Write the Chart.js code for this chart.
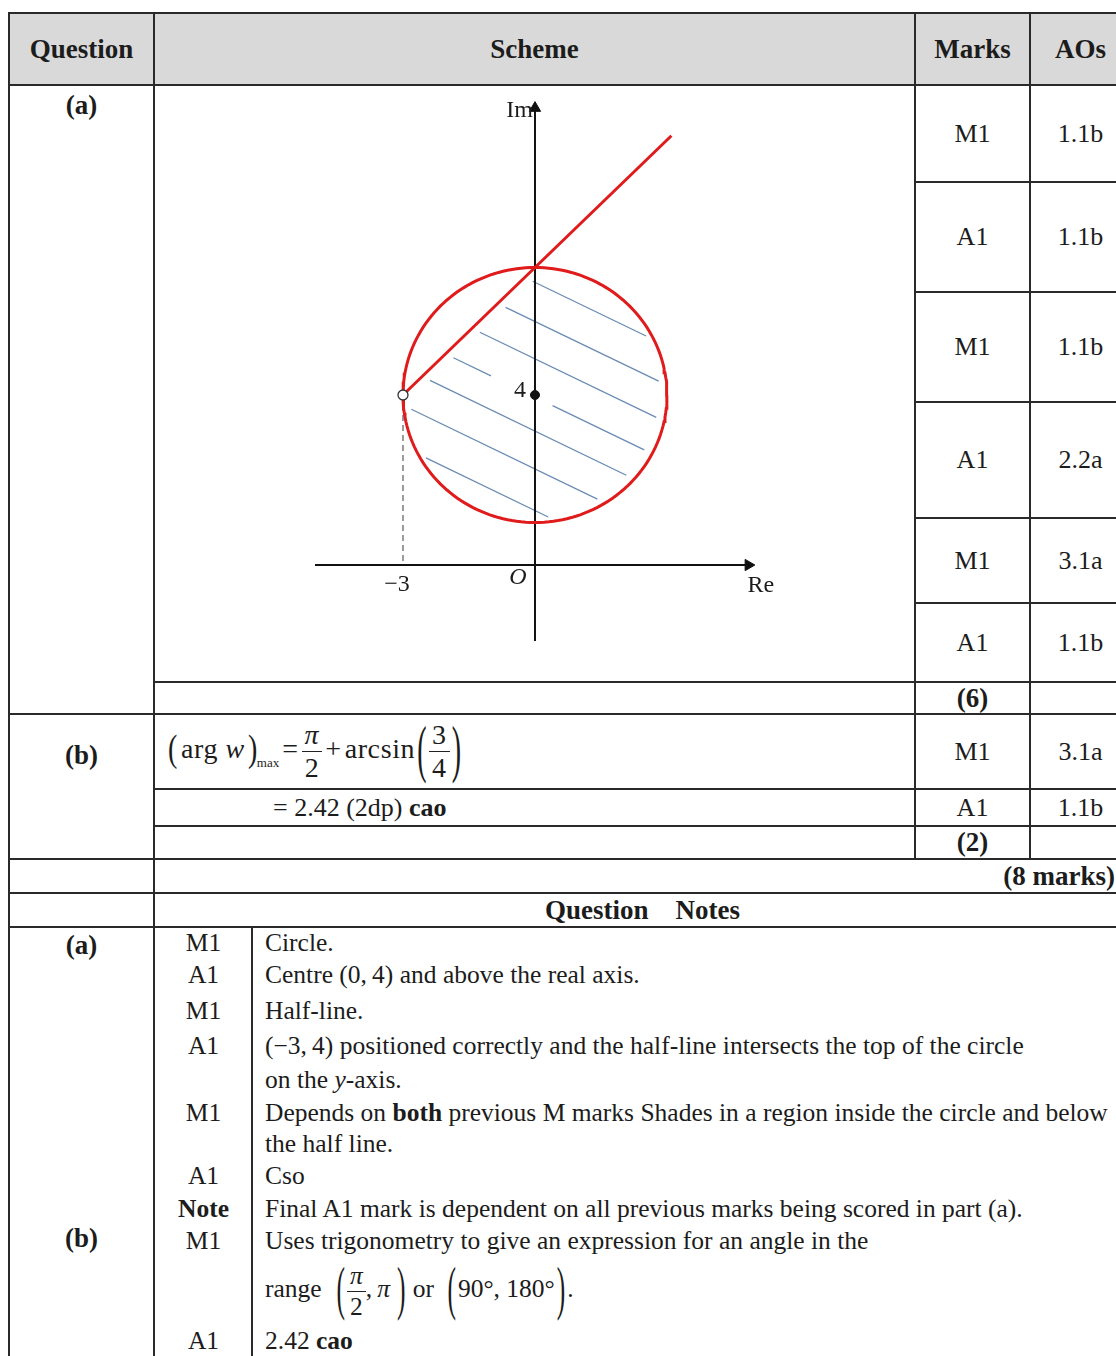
<!DOCTYPE html>
<html>
<head>
<meta charset="utf-8">
<script src="https://cdn.jsdelivr.net/npm/chart.js@4.4.1/dist/chart.umd.min.js"></script>
<style>
body { margin:0; width:1116px; height:1356px; overflow:hidden; background:#fff;
       font-family:"Liberation Serif","Times New Roman",serif; color:#1c1c1c; }
table { position:absolute; left:8px; top:12px; border-collapse:collapse; table-layout:fixed; width:1122px; }
th, td { border:2px solid #2a2a2a; padding:0; text-align:center; vertical-align:middle; line-height:1; font-size:26px; }
th { background:#d9d9d9; font-size:27px; font-weight:bold; }
.b { font-weight:bold; font-size:27px; }
.top { vertical-align:top; }
.lft { text-align:left; font-size:26px; }
.fr { display:inline-flex; flex-direction:column; vertical-align:middle; text-align:center; line-height:1.15; }
.fr > span:first-child { border-bottom:1.5px solid #222; padding:0 3px; }
.bp { display:inline-block; transform:scaleY(1.35); margin:0 3px; }
.bp2 { display:inline-block; transform:scaleY(2.3); margin:0 2px; }
.mx { font-size:13px; vertical-align:-9px; margin-left:-4px; letter-spacing:0; }
.op { display:inline-block; margin:0 3px; }
.formula { font-size:28px; letter-spacing:0.6px; }
.notes { position:relative; font-size:25.5px; }
.notes .vl { position:absolute; left:96px; top:0; bottom:-20px; border-left:2px solid #2a2a2a; }
.row { display:flex; align-items:center; }
.row .m { width:97px; text-align:center; }
.row .t { padding-left:13px; text-align:left; white-space:nowrap; }
#diagram { position:absolute; left:290px; top:90px; }
</style>
</head>
<body>
<table>
<colgroup><col style="width:145px"><col style="width:761px"><col style="width:115px"><col style="width:101px"></colgroup>
<tr style="height:72px"><th>Question</th><th>Scheme</th><th>Marks</th><th>AOs</th></tr>
<tr style="height:97px"><td rowspan="7" class="b top" style="padding-top:6px">(a)</td><td rowspan="6"></td><td>M1</td><td>1.1b</td></tr>
<tr style="height:110px"><td>A1</td><td>1.1b</td></tr>
<tr style="height:110px"><td>M1</td><td>1.1b</td></tr>
<tr style="height:116px"><td>A1</td><td>2.2a</td></tr>
<tr style="height:85px"><td>M1</td><td>3.1a</td></tr>
<tr style="height:79px"><td>A1</td><td>1.1b</td></tr>
<tr style="height:32px"><td></td><td class="b">(6)</td><td></td></tr>
<tr style="height:75px"><td rowspan="3" class="b top" style="padding-top:27px">(b)</td>
  <td class="lft formula" style="padding-left:10px"><span class="bp">(</span>arg&nbsp;<i>w</i><span class="bp">)</span><span class="mx">max</span><span class="op">=</span><span class="fr"><span><i>π</i></span><span>2</span></span><span class="op">+</span>arcsin<span class="bp2">(</span><span class="fr"><span>3</span><span>4</span></span><span class="bp2">)</span></td>
  <td>M1</td><td>3.1a</td></tr>
<tr style="height:37px"><td class="lft" style="padding-left:118px">= 2.42 (2dp) <b>cao</b></td><td>A1</td><td>1.1b</td></tr>
<tr style="height:33px"><td></td><td class="b">(2)</td><td></td></tr>
<tr style="height:34px"><td></td><td colspan="3" class="b" style="text-align:right;padding-right:15px">(8 marks)</td></tr>
<tr style="height:34px"><td></td><td colspan="3" class="b">Question&nbsp;&nbsp;&nbsp;&nbsp;Notes</td></tr>
<tr style="height:436px">
  <td class="b top" style="position:relative">
    <div style="position:absolute;left:0;right:0;top:2px;line-height:30px">(a)</div>
    <div style="position:absolute;left:0;right:0;top:295px;line-height:30px">(b)</div>
  </td>
  <td colspan="3" class="top">
    <div class="notes">
      <div class="vl"></div>
      <div class="row" style="height:30px"><div class="m">M1</div><div class="t">Circle.</div></div>
      <div class="row" style="height:34px"><div class="m">A1</div><div class="t">Centre (0,&thinsp;4) and above the real axis.</div></div>
      <div class="row" style="height:37px"><div class="m">M1</div><div class="t">Half-line.</div></div>
      <div class="row" style="height:33px"><div class="m">A1</div><div class="t">(−3,&thinsp;4) positioned correctly and the half-line intersects the top of the circle</div></div>
      <div class="row" style="height:35px"><div class="m"></div><div class="t">on the <i>y</i>-axis.</div></div>
      <div class="row" style="height:31px"><div class="m">M1</div><div class="t">Depends on <b>both</b> previous M marks Shades in a region inside the circle and below</div></div>
      <div class="row" style="height:31px"><div class="m"></div><div class="t">the half line.</div></div>
      <div class="row" style="height:34px"><div class="m">A1</div><div class="t">Cso</div></div>
      <div class="row" style="height:31px"><div class="m"><b>Note</b></div><div class="t">Final A1 mark is dependent on all previous marks being scored in part (a).</div></div>
      <div class="row" style="height:34px"><div class="m">M1</div><div class="t">Uses trigonometry to give an expression for an angle in the</div></div>
      <div class="row" style="height:66px"><div class="m"></div><div class="t">range&nbsp; <span class="bp2">(</span><span class="fr"><span><i>π</i></span><span>2</span></span>,&thinsp;<i>π</i>&thinsp;<span class="bp2">)</span>&thinsp;or&thinsp; <span class="bp2">(</span>90°, 180°<span class="bp2">)</span>.</div></div>
      <div class="row" style="height:34px"><div class="m">A1</div><div class="t">2.42 <b>cao</b></div></div>
    </div>
  </td>
</tr>
</table>

<canvas id="diagram" width="510" height="570"></canvas>

<script>
// plot window (data units) for the Argand diagram
const xMin = -5.568, xMax = 6.023;
const yMin = -2.235, yMax = 11.176;

// geometry
const circleCentre = [0, 4];
const circleRadius = 3;
const halfLineStart = [-3, 4];
const halfLineEnd = [3.1, 10.1];
const reAxis = [-5, 4.85];
const imAxis = [-1.79, 10.75];

// shading lines y = slope*x + c
const hatchSlope = -0.5;
const hatchIntercepts = [6.65, 5.73, 4.85, 3.95, 3.15, 2.26, 1.28];

const labels = [
  { text: 'Im', x: 0, y: 10.7, dx: -2, dy: 0, align: 'right', italic: false },
  { text: 'Re', x: 4.9, y: 0, dx: -3, dy: 21, align: 'left', italic: false },
  { text: '−3', x: -3, y: 0, dx: -6, dy: 20, align: 'center', italic: false },
  { text: 'O', x: 0, y: 0, dx: -17, dy: 13, align: 'center', italic: true },
  { text: '4', x: 0, y: 4, dx: -15, dy: -4, align: 'center', italic: false }
];

function circlePoints() {
  const pts = [];
  for (let i = 0; i <= 180; i++) {
    const a = i / 180 * 2 * Math.PI;
    pts.push({ x: circleCentre[0] + circleRadius * Math.cos(a), y: circleCentre[1] + circleRadius * Math.sin(a) });
  }
  return pts;
}

// clip each shading line to the region inside the circle and below the half-line
function hatchSegments() {
  const segs = [];
  const hs = (halfLineEnd[1] - halfLineStart[1]) / (halfLineEnd[0] - halfLineStart[0]);
  const hb = halfLineStart[1] - hs * halfLineStart[0];
  const inset = 0.18;
  hatchIntercepts.forEach(c => {
    const m = hatchSlope, k = c - circleCentre[1];
    const A = 1 + m * m, B = 2 * m * k - 2 * circleCentre[0], C = k * k + circleCentre[0] * circleCentre[0] - circleRadius * circleRadius;
    const d = Math.sqrt(B * B - 4 * A * C);
    let x1 = (-B - d) / (2 * A), x2 = (-B + d) / (2 * A);
    x1 = Math.max(x1, (c - hb) / (hs - m)) + inset;
    x2 = x2 - inset;
    const f = x => ({ x: x, y: m * x + c });
    const dist = Math.abs(c - circleCentre[1] + m * circleCentre[0]) / Math.sqrt(1 + m * m);
    if (dist < 0.5) {
      // break around the "4" label and centre dot
      segs.push([f(x1), f(-1.0)]);
      segs.push([f(0.4), f(x2)]);
    } else {
      segs.push([f(x1), f(x2)]);
    }
  });
  return segs;
}

const datasets = [];
hatchSegments().forEach(s => {
  datasets.push({ data: s, showLine: true, borderColor: '#6a8bb4', borderWidth: 1.3, pointRadius: 0, order: 10 });
});
datasets.push({ data: [{ x: halfLineStart[0], y: halfLineStart[1] }, { x: halfLineStart[0], y: 0 }],
  showLine: true, borderColor: '#666', borderWidth: 1.3, borderDash: [6, 4], pointRadius: 0, order: 9 });
datasets.push({ data: [{ x: reAxis[0], y: 0 }, { x: reAxis[1], y: 0 }],
  showLine: true, borderColor: '#111', borderWidth: 2, pointRadius: 0, order: 8 });
datasets.push({ data: [{ x: 0, y: imAxis[0] }, { x: 0, y: imAxis[1] }],
  showLine: true, borderColor: '#111', borderWidth: 2, pointRadius: 0, order: 8 });
datasets.push({ data: [{ x: reAxis[1], y: 0 }], pointStyle: 'triangle', rotation: 90, pointRadius: 6.5,
  backgroundColor: '#111', borderColor: '#111', borderWidth: 1, order: 7 });
datasets.push({ data: [{ x: 0, y: imAxis[1] }], pointStyle: 'triangle', rotation: 0, pointRadius: 6.5,
  backgroundColor: '#111', borderColor: '#111', borderWidth: 1, order: 7 });
datasets.push({ data: circlePoints(), showLine: true, borderColor: '#e01b1b', borderWidth: 3, pointRadius: 0, tension: 0, order: 5 });
datasets.push({ data: [{ x: halfLineStart[0], y: halfLineStart[1] }, { x: halfLineEnd[0], y: halfLineEnd[1] }],
  showLine: true, borderColor: '#e01b1b', borderWidth: 3, pointRadius: 0, order: 4 });
datasets.push({ data: [{ x: circleCentre[0], y: circleCentre[1] }], pointRadius: 4.5,
  backgroundColor: '#111', borderColor: '#111', order: 1 });
datasets.push({ data: [{ x: halfLineStart[0], y: halfLineStart[1] }], pointRadius: 5,
  backgroundColor: '#fff', borderColor: '#333', borderWidth: 1.3, order: 1 });

const labelPlugin = {
  id: 'labelPlugin',
  afterDatasetsDraw(chart) {
    const ctx = chart.ctx;
    const xs = chart.scales.x, ys = chart.scales.y;
    ctx.save();
    ctx.fillStyle = '#1c1c1c';
    ctx.textBaseline = 'middle';
    labels.forEach(l => {
      ctx.font = (l.italic ? 'italic ' : '') + '24px "Liberation Serif", serif';
      ctx.textAlign = l.align;
      ctx.fillText(l.text, xs.getPixelForValue(l.x) + l.dx, ys.getPixelForValue(l.y) + l.dy);
    });
    ctx.restore();
  }
};

const ctx = document.getElementById('diagram').getContext('2d');
new Chart(ctx, {
  type: 'scatter',
  data: { datasets: datasets },
  options: {
    responsive: false,
    animation: false,
    clip: false,
    layout: { padding: 0, autoPadding: false },
    plugins: { legend: { display: false }, tooltip: { enabled: false } },
    scales: {
      x: { type: 'linear', min: xMin, max: xMax, display: false },
      y: { type: 'linear', min: yMin, max: yMax, display: false }
    }
  },
  plugins: [labelPlugin]
});
</script>
</body>
</html>
